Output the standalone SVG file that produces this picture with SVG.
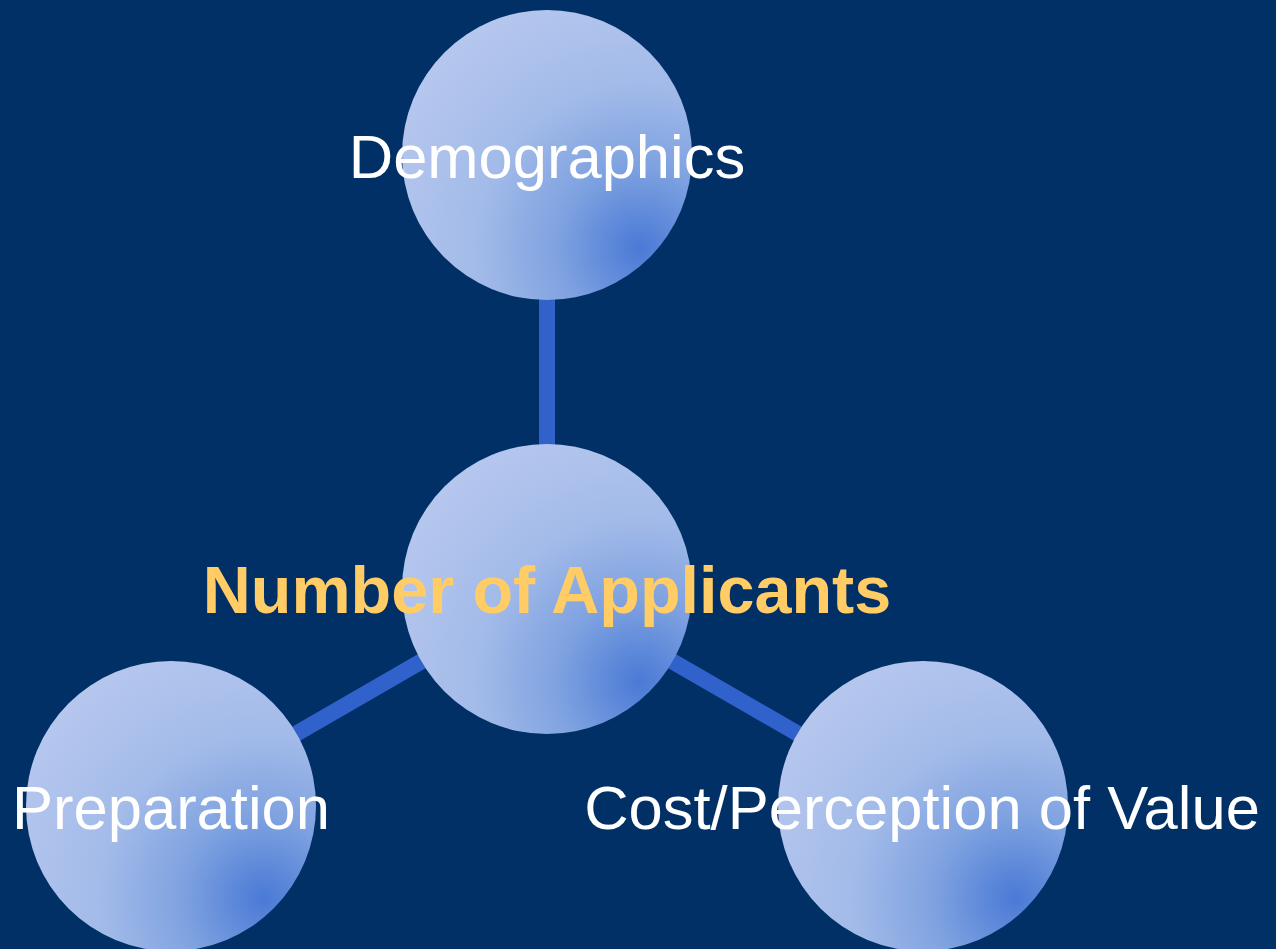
<svg xmlns="http://www.w3.org/2000/svg" width="1276" height="949" viewBox="0 0 1276 949">
<defs>
<radialGradient id="g" cx="0.82" cy="0.82" r="0.95" fx="0.82" fy="0.82">
<stop offset="0" stop-color="#4a7ad6"/>
<stop offset="0.3" stop-color="#7fa2e0"/>
<stop offset="0.6" stop-color="#a3bbe9"/>
<stop offset="1" stop-color="#b6c7ee"/>
</radialGradient>
<style>
.n{fill:url(#g)}
.t{font-family:"Liberation Sans",Arial,sans-serif;font-size:61.5px;fill:#ffffff;text-anchor:middle}
.b{font-family:"Liberation Sans",Arial,sans-serif;font-size:66.5px;font-weight:bold;fill:#ffcc66;text-anchor:middle}
.c{stroke:#3162cc;stroke-width:16;fill:none}
</style>
</defs>
<rect width="1276" height="949" fill="#003066"/>
<g id="connectors">
<line class="c" x1="547" y1="155" x2="547" y2="589"/>
<line class="c" x1="547" y1="589" x2="171" y2="806"/>
<line class="c" x1="547" y1="589" x2="923" y2="806"/>
</g>
<g id="demographics">
<circle class="n" cx="547" cy="155" r="145"/>
<text class="t" x="547" y="178">Demographics</text>
</g>
<g id="preparation">
<circle class="n" cx="171" cy="806" r="145"/>
<text class="t" x="171" y="829">Preparation</text>
</g>
<g id="cost">
<circle class="n" cx="923" cy="806" r="145"/>
<text class="t" x="922" y="829">Cost/Perception of Value</text>
</g>
<g id="applicants">
<circle class="n" cx="547" cy="589" r="145"/>
<text class="b" x="547" y="613">Number of Applicants</text>
</g>
</svg>
